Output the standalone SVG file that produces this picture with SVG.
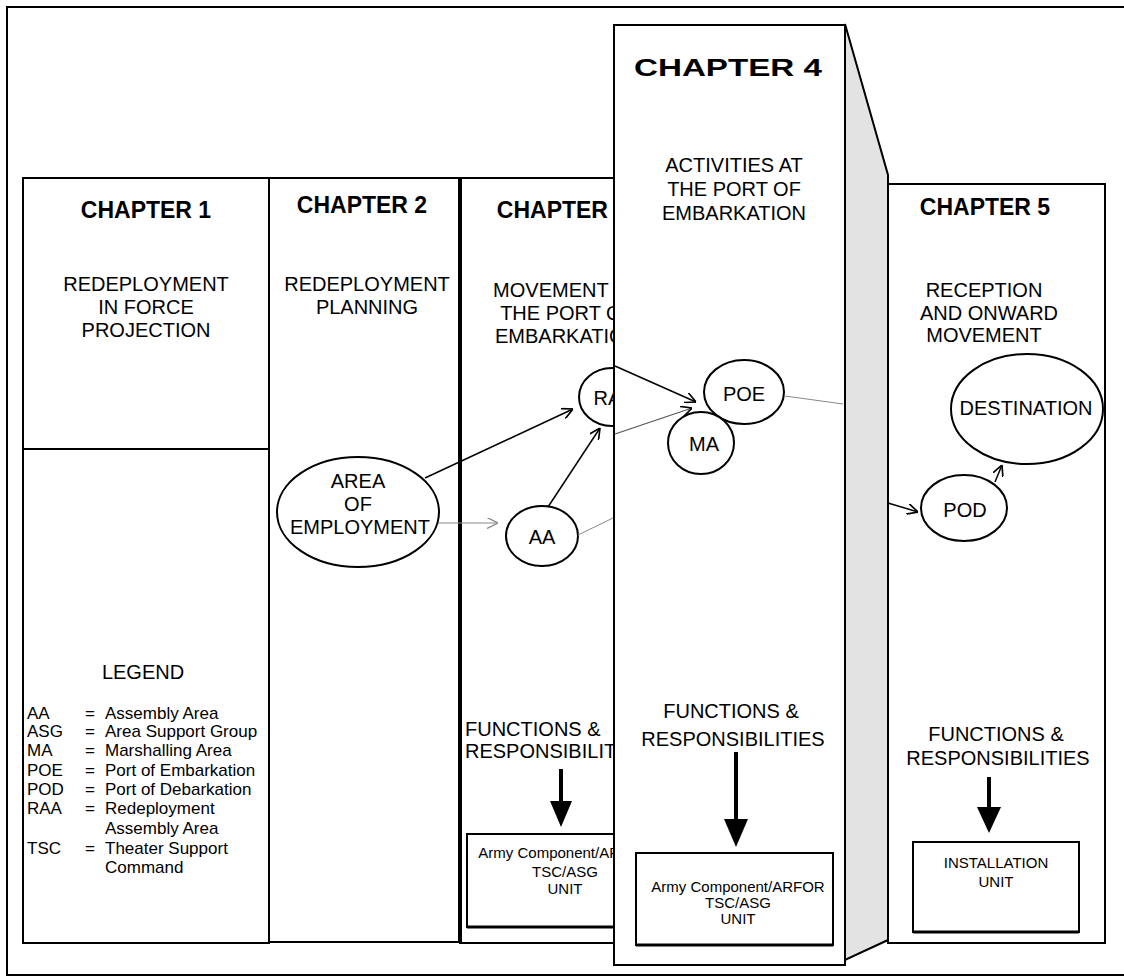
<svg xmlns="http://www.w3.org/2000/svg" width="1124" height="980" viewBox="0 0 1124 980">
<style>
.box{fill:#fff;stroke:#000;stroke-width:2}
.ell{fill:#fff;stroke:#000;stroke-width:2}
.t{font-family:"Liberation Sans",Arial,sans-serif;fill:#000}
.h{font-family:"Liberation Sans",Arial,sans-serif;font-weight:bold;font-size:23px;text-anchor:middle;fill:#000}
.sub{font-family:"Liberation Sans",Arial,sans-serif;font-size:20px;text-anchor:middle;fill:#000}
.lg{font-family:"Liberation Sans",Arial,sans-serif;font-size:17px;fill:#000}
.sm{font-family:"Liberation Sans",Arial,sans-serif;font-size:15px;text-anchor:middle;fill:#000}
.c{fill:none;stroke:#000;stroke-width:1.5}
.cg{fill:none;stroke:#888;stroke-width:1}
</style>
<defs>
<marker id="ah" viewBox="0 0 10 10" refX="10" refY="5" markerWidth="11" markerHeight="11" markerUnits="userSpaceOnUse" orient="auto"><path d="M0,0 L10,5 L0,10" fill="none" stroke="#000" stroke-width="1.5"/></marker>
<marker id="ahg" viewBox="0 0 10 10" refX="10" refY="5" markerWidth="11" markerHeight="11" markerUnits="userSpaceOnUse" orient="auto"><path d="M0,0 L10,5 L0,10" fill="none" stroke="#888" stroke-width="1.2"/></marker>
</defs>
<rect width="1124" height="980" fill="#fff"/>
<rect x="7" y="7" width="1130" height="968" fill="none" stroke="#000" stroke-width="2"/>

<g id="chapter1">
<rect class="box" x="23" y="178" width="246" height="765"/>
<line x1="23" y1="449" x2="269" y2="449" stroke="#000" stroke-width="2"/>
<text class="h" x="146" y="218">CHAPTER 1</text>
<text class="sub" x="146" y="291">REDEPLOYMENT</text>
<text class="sub" x="146" y="314">IN FORCE</text>
<text class="sub" x="146" y="337">PROJECTION</text>
</g>
<g id="legend">
<text class="sub" x="143" y="679" font-size="19">LEGEND</text>
<g class="lg">
<text x="27" y="719">AA</text><text x="85" y="719">=</text><text x="105" y="719">Assembly Area</text>
<text x="27" y="737">ASG</text><text x="85" y="737">=</text><text x="105" y="737">Area Support Group</text>
<text x="27" y="756">MA</text><text x="85" y="756">=</text><text x="105" y="756">Marshalling Area</text>
<text x="27" y="776">POE</text><text x="85" y="776">=</text><text x="105" y="776">Port of Embarkation</text>
<text x="27" y="795">POD</text><text x="85" y="795">=</text><text x="105" y="795">Port of Debarkation</text>
<text x="27" y="814">RAA</text><text x="85" y="814">=</text><text x="105" y="814">Redeployment</text>
<text x="105" y="834">Assembly Area</text>
<text x="27" y="854">TSC</text><text x="85" y="854">=</text><text x="105" y="854">Theater Support</text>
<text x="105" y="873">Command</text>
</g>
</g>

<g id="chapter2">
<rect class="box" x="269" y="178" width="191" height="764"/>
<text class="h" x="362" y="213">CHAPTER 2</text>
<text class="sub" x="367" y="291">REDEPLOYMENT</text>
<text class="sub" x="367" y="314">PLANNING</text>
</g>

<g id="chapter3">
<rect class="box" x="460" y="178" width="230" height="765"/>
<line x1="460" y1="178" x2="460" y2="943" stroke="#000" stroke-width="4"/>
<text class="h" x="562" y="218">CHAPTER 3</text>
<text class="sub" x="567" y="297">MOVEMENT TO</text>
<text class="sub" x="567" y="320">THE PORT OF</text>
<text class="sub" x="567" y="343">EMBARKATION</text>
<text class="t" x="465" y="736" font-size="20">FUNCTIONS &amp;</text>
<text class="t" x="465" y="758" font-size="20">RESPONSIBILITIES</text>
<line x1="561" y1="769" x2="561" y2="802" stroke="#000" stroke-width="4"/>
<polygon points="550,801 572,801 561,827"/>
</g>
<g id="ch3-unit">
<rect class="box" x="467" y="834" width="200" height="93"/>
<line x1="467" y1="927" x2="667" y2="927" stroke="#000" stroke-width="3"/>
<text class="sm" x="565" y="858">Army Component/ARFOR</text>
<text class="sm" x="565" y="877">TSC/ASG</text>
<text class="sm" x="565" y="894">UNIT</text>
</g>

<g id="area-of-employment">
<ellipse class="ell" cx="358" cy="512" rx="81" ry="55"/>
<text class="sub" x="358" y="488">AREA</text>
<text class="sub" x="358" y="511">OF</text>
<text class="sub" x="360" y="534">EMPLOYMENT</text>
</g>
<g id="aa">
<ellipse class="ell" cx="542" cy="536" rx="36" ry="30"/>
<text class="sub" x="542" y="544" font-size="17">AA</text>
</g>
<g id="raa">
<ellipse class="ell" cx="612" cy="397" rx="33" ry="29"/>
<text class="sub" x="614" y="405" font-size="17">RAA</text>
</g>

<g id="connectors-back">
<line class="c" x1="425" y1="478" x2="573" y2="409" marker-end="url(#ah)"/>
<line class="cg" x1="438" y1="523" x2="498" y2="523" marker-end="url(#ahg)"/>
<line class="c" x1="548" y1="507" x2="600" y2="428" marker-end="url(#ah)"/>
<line class="cg" x1="578" y1="535" x2="615" y2="517"/>
</g>

<g id="chapter4">
<polygon points="845,24 888,175 888,940 845,960" fill="#e3e3e3" stroke="#000" stroke-width="2"/>
<rect class="box" x="614" y="25" width="231" height="940"/>
<text class="h" x="728" y="76" font-size="30" textLength="188" lengthAdjust="spacingAndGlyphs" font-weight="900">CHAPTER 4</text>
<text class="sub" x="734" y="172" font-size="21">ACTIVITIES AT</text>
<text class="sub" x="734" y="196" font-size="21">THE PORT OF</text>
<text class="sub" x="734" y="220" font-size="21">EMBARKATION</text>
<text class="sub" x="731" y="718" font-size="21">FUNCTIONS &amp;</text>
<text class="sub" x="733" y="746" font-size="21">RESPONSIBILITIES</text>
<line x1="736" y1="752" x2="736" y2="820" stroke="#000" stroke-width="4"/>
<polygon points="724,819 748,819 736,847"/>
</g>
<g id="ch4-unit">
<rect class="box" x="636" y="853" width="197" height="92"/>
<line x1="636" y1="945" x2="833" y2="945" stroke="#000" stroke-width="3"/>
<text class="sm" x="738" y="892">Army Component/ARFOR</text>
<text class="sm" x="738" y="908">TSC/ASG</text>
<text class="sm" x="738" y="924">UNIT</text>
</g>

<g id="chapter5">
<rect class="box" x="888" y="184" width="217" height="759"/>
<text class="h" x="985" y="215">CHAPTER 5</text>
<text class="sub" x="984" y="297">RECEPTION</text>
<text class="sub" x="989" y="320">AND ONWARD</text>
<text class="sub" x="984" y="342">MOVEMENT</text>
<text class="sub" x="996" y="741">FUNCTIONS &amp;</text>
<text class="sub" x="998" y="765">RESPONSIBILITIES</text>
<line x1="989" y1="777" x2="989" y2="808" stroke="#000" stroke-width="4"/>
<polygon points="977,807 1001,807 989,833"/>
</g>
<g id="ch5-unit">
<rect class="box" x="913" y="842" width="166" height="90"/>
<line x1="913" y1="932" x2="1079" y2="932" stroke="#000" stroke-width="3"/>
<text class="sm" x="996" y="868">INSTALLATION</text>
<text class="sm" x="996" y="887">UNIT</text>
</g>

<g id="poe">
<ellipse class="ell" cx="744" cy="392" rx="40" ry="32"/>
<text class="sub" x="744" y="401">POE</text>
</g>
<g id="ma">
<ellipse class="ell" cx="701" cy="443" rx="33" ry="31"/>
<text class="sub" x="704" y="451" font-size="17">MA</text>
</g>
<g id="destination">
<ellipse class="ell" cx="1027" cy="409" rx="76" ry="55"/>
<text class="sub" x="1026" y="415">DESTINATION</text>
</g>
<g id="pod">
<ellipse class="ell" cx="964" cy="508" rx="43" ry="33"/>
<text class="sub" x="965" y="517">POD</text>
</g>

<g id="connectors-front">
<line class="c" x1="615" y1="366" x2="696" y2="402" marker-end="url(#ah)"/>
<line x1="615" y1="434" x2="692" y2="408" stroke="#555" stroke-width="1.2" marker-end="url(#ah)"/>
<line class="cg" x1="785" y1="396" x2="843" y2="404"/>
<line class="c" x1="888" y1="503" x2="918" y2="512" marker-end="url(#ah)"/>
<line class="c" x1="995" y1="482" x2="1002" y2="465" marker-end="url(#ah)"/>
</g>
</svg>
